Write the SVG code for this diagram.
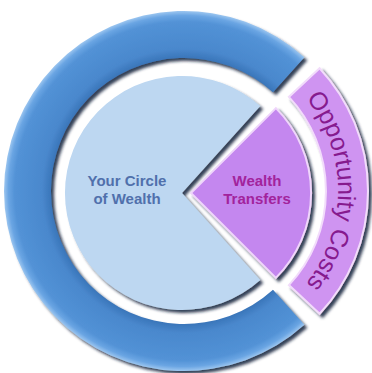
<svg xmlns="http://www.w3.org/2000/svg" width="372" height="373" viewBox="0 0 372 373">
  <defs>
    <filter id="sh" x="-10%" y="-10%" width="130%" height="130%">
      <feGaussianBlur in="SourceAlpha" stdDeviation="1.5"/>
      <feOffset dx="2.5" dy="2.5" result="b"/>
      <feFlood flood-color="#14203a" flood-opacity="0.85"/>
      <feComposite in2="b" operator="in"/>
      <feMerge><feMergeNode/><feMergeNode in="SourceGraphic"/></feMerge>
    </filter>
    <radialGradient id="ringGrad" gradientUnits="userSpaceOnUse" cx="184" cy="191" r="180">
      <stop offset="0.74" stop-color="#3a76ba"/>
      <stop offset="0.79" stop-color="#4a88cd"/>
      <stop offset="0.94" stop-color="#5292d6"/>
      <stop offset="0.975" stop-color="#6aa5e3"/>
      <stop offset="1" stop-color="#9cc6f0"/>
    </radialGradient>
    <path id="ocArc" d="M 239.3 50 A 150 150 0 0 1 239.3 332"/>
  </defs>
  <style>
    .purple { fill: #c487ef; stroke: #efd6fb; stroke-width: 2; filter: url(#sh); }
    .band { fill: #cf94f1; stroke: #f2dcfb; stroke-width: 2; filter: url(#sh); }
    .lbl { font-family: "Liberation Sans", Arial, sans-serif; font-weight: bold; font-size: 15px; text-anchor: middle; }
  </style>
  <rect width="372" height="373" fill="#ffffff"/>

  <g id="ring">
    <path d="M 304.4 57.2 A 180 180 0 1 0 304.4 324.8 L 273.0 289.8 A 133 133 0 1 1 273.0 92.2 Z" fill="url(#ringGrad)" filter="url(#sh)"/>
  </g>

  <g id="circle-of-wealth">
    <path d="M 182 193 L 260.3 106.1 A 117 117 0 1 0 260.3 279.9 Z" fill="#bdd7f1" filter="url(#sh)"/>
    <text class="lbl" x="127" y="186" fill="#5070ac">Your Circle</text>
    <text class="lbl" x="127" y="204" fill="#5070ac">of Wealth</text>
  </g>

  <g id="wealth-transfers">
    <path class="purple" d="M 191 193 L 275.9 108.1 A 120 120 0 0 1 275.9 277.9 Z"/>
    <text class="lbl" x="257" y="186" fill="#a2239c">Wealth</text>
    <text class="lbl" x="257" y="204" fill="#a2239c">Transfers</text>
  </g>

  <g id="opportunity-costs">
    <path class="band" d="M 319.6 68.2 A 180 180 0 0 1 319.6 313.8 L 288.9 285.1 A 138 138 0 0 0 288.9 96.9 Z"/>
    <text font-family="Liberation Sans, Arial, sans-serif" font-size="25" fill="#861a8e">
      <textPath href="#ocArc" startOffset="50%" text-anchor="middle">Opportunity Costs</textPath>
    </text>
  </g>

  <g id="connectors"/>
</svg>
